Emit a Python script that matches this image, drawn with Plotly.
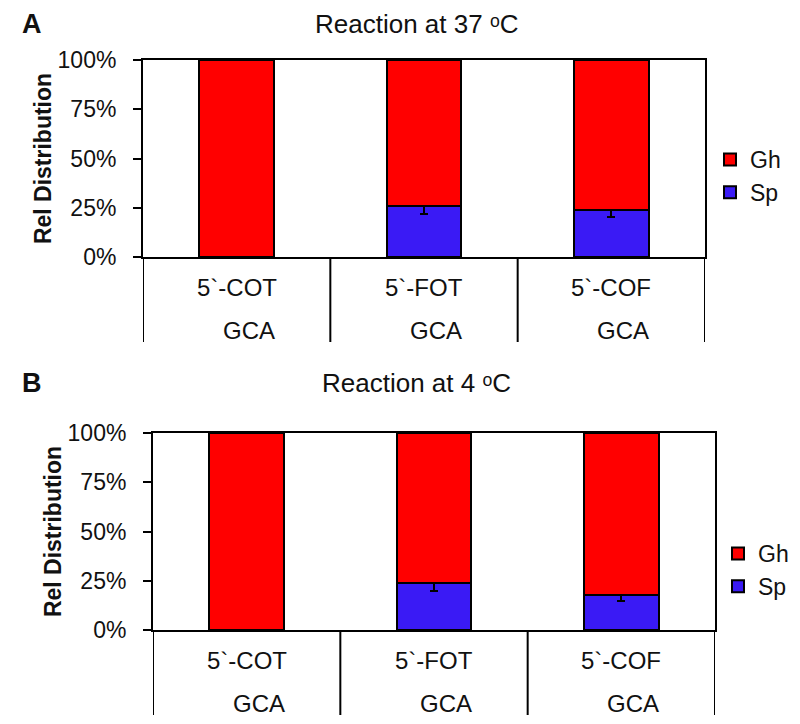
import plotly.graph_objects as go

# ---------------- data ----------------
categories = ["5`-COT", "5`-FOT", "5`-COF"]
sublabels = ["GCA", "GCA", "GCA"]

sp_37 = [0, 26, 24]
gh_37 = [100, 74, 76]
sp_37_err = [0, 4, 3.5]

sp_4 = [0, 24, 18]
gh_4 = [100, 76, 82]
sp_4_err = [0, 4, 3.5]

yticks = [0, 25, 50, 75, 100]
ytick_labels = ["0%", "25%", "50%", "75%", "100%"]

series_names = ["Sp", "Gh"]
series_colors = ["#3A1AF5", "#FF0000"]

# ---------------- layout helpers ----------------
# the page body has an 8px margin, so the figure starts at (8, 8) in the window
OFF = 8
W, H = 800 - OFF, 724 - OFF
FONT = "Liberation Sans, Arial, sans-serif"


def fx(px):
    return (px - OFF) / W


def fy(py):
    return 1 - (py - OFF) / H


fig = go.Figure()

panels = [
    dict(sp=sp_37, gh=gh_37, err=sp_37_err, xa="x", ya="y", legend="legend"),
    dict(sp=sp_4, gh=gh_4, err=sp_4_err, xa="x2", ya="y2", legend="legend2"),
]

for p in panels:
    fig.add_trace(go.Bar(
        x=categories, y=p["sp"], name=series_names[0],
        marker=dict(color=series_colors[0], line=dict(color="black", width=2)),
        error_y=dict(type="data", array=p["err"], visible=True,
                     color="black", thickness=2, width=4),
        width=0.4, xaxis=p["xa"], yaxis=p["ya"], legend=p["legend"],
    ))
    fig.add_trace(go.Bar(
        x=categories, y=p["gh"], name=series_names[1],
        marker=dict(color=series_colors[1], line=dict(color="black", width=2)),
        width=0.4, xaxis=p["xa"], yaxis=p["ya"], legend=p["legend"],
    ))

xcommon = dict(type="category", range=[-0.5, 2.5], showticklabels=False,
               ticks="", showline=True, linecolor="black", linewidth=2,
               mirror=True, showgrid=False, zeroline=False, fixedrange=True)
ycommon = dict(range=[0, 100], tickvals=yticks, ticktext=ytick_labels,
               ticks="outside", ticklen=8, tickwidth=2, tickcolor="black",
               showline=True, linecolor="black", linewidth=2, mirror=True,
               showgrid=False, zeroline=False,
               tickfont=dict(family=FONT, size=23, color="#111"),
               title=dict(text="Rel Distribution",
                          font=dict(family=FONT, size=23, color="#111", weight="bold"),
                          standoff=0),
               ticklabelstandoff=12)

# panel geometry (window pixels)
A = dict(l=143, r=705, t=60, b=257, sepb=342, lab1=287, lab2=330)
B = dict(l=153, r=715, t=433, b=630, sepb=715, lab1=660, lab2=703)

fig.update_layout(
    xaxis=dict(domain=[fx(A["l"]), fx(A["r"])], anchor="y", **xcommon),
    yaxis=dict(domain=[fy(A["b"]), fy(A["t"])], anchor="x", **ycommon),
    xaxis2=dict(domain=[fx(B["l"]), fx(B["r"])], anchor="y2", **xcommon),
    yaxis2=dict(domain=[fy(B["b"]), fy(B["t"])], anchor="x2", **ycommon),
)

shapes = []
annotations = []
# (geometry, x axis, title text, panel letter, y of text, y anchor)
for geo, xa, ttl, letter, ty, yanc in [
        (A, "x", "Reaction at 37 ᵒC", "A", 8, "top"),
        (B, "x2", "Reaction at 4 ᵒC", "B", 383, "middle")]:
    for s in [-0.5, 0.5, 1.5, 2.5]:
        shapes.append(dict(type="line", xref=xa, yref="paper", x0=s, x1=s,
                           y0=fy(geo["sepb"]), y1=fy(geo["b"]),
                           line=dict(color="black", width=2)))
    for c, sl in zip(categories, sublabels):
        annotations.append(dict(x=c, y=fy(geo["lab1"]), xref=xa, yref="paper",
                                text=c, showarrow=False, yanchor="middle",
                                font=dict(family=FONT, size=24, color="#111")))
        annotations.append(dict(x=c, y=fy(geo["lab2"]), xref=xa, yref="paper",
                                text=sl, showarrow=False, yanchor="middle", xshift=12,
                                font=dict(family=FONT, size=24, color="#111")))
    annotations.append(dict(x=fx(416), y=fy(ty), xref="paper", yref="paper",
                            text=ttl, showarrow=False, yanchor=yanc, borderpad=0,
                            font=dict(family=FONT, size=26, color="#111")))
    annotations.append(dict(x=fx(21), y=fy(ty), xref="paper", yref="paper",
                            text="<b>%s</b>" % letter, showarrow=False, yanchor=yanc,
                            borderpad=0,
                            font=dict(family=FONT, size=27, color="#111")))

fig.update_layout(
    barmode="stack",
    width=W, height=H,
    margin=dict(l=0, r=0, t=0, b=0, autoexpand=False),
    paper_bgcolor="white", plot_bgcolor="white",
    font=dict(family=FONT, color="#111"),
    shapes=shapes, annotations=annotations,
    legend=dict(x=fx(710), y=fy(176), xanchor="left", yanchor="middle",
                traceorder="reversed", font=dict(family=FONT, size=23, color="#111"),
                bgcolor="rgba(0,0,0,0)", itemclick=False, itemdoubleclick=False),
    legend2=dict(x=fx(718), y=fy(570), xanchor="left", yanchor="middle",
                 traceorder="reversed", font=dict(family=FONT, size=23, color="#111"),
                 bgcolor="rgba(0,0,0,0)", itemclick=False, itemdoubleclick=False),
    bargap=0,
)

fig.write_html("out.html")
